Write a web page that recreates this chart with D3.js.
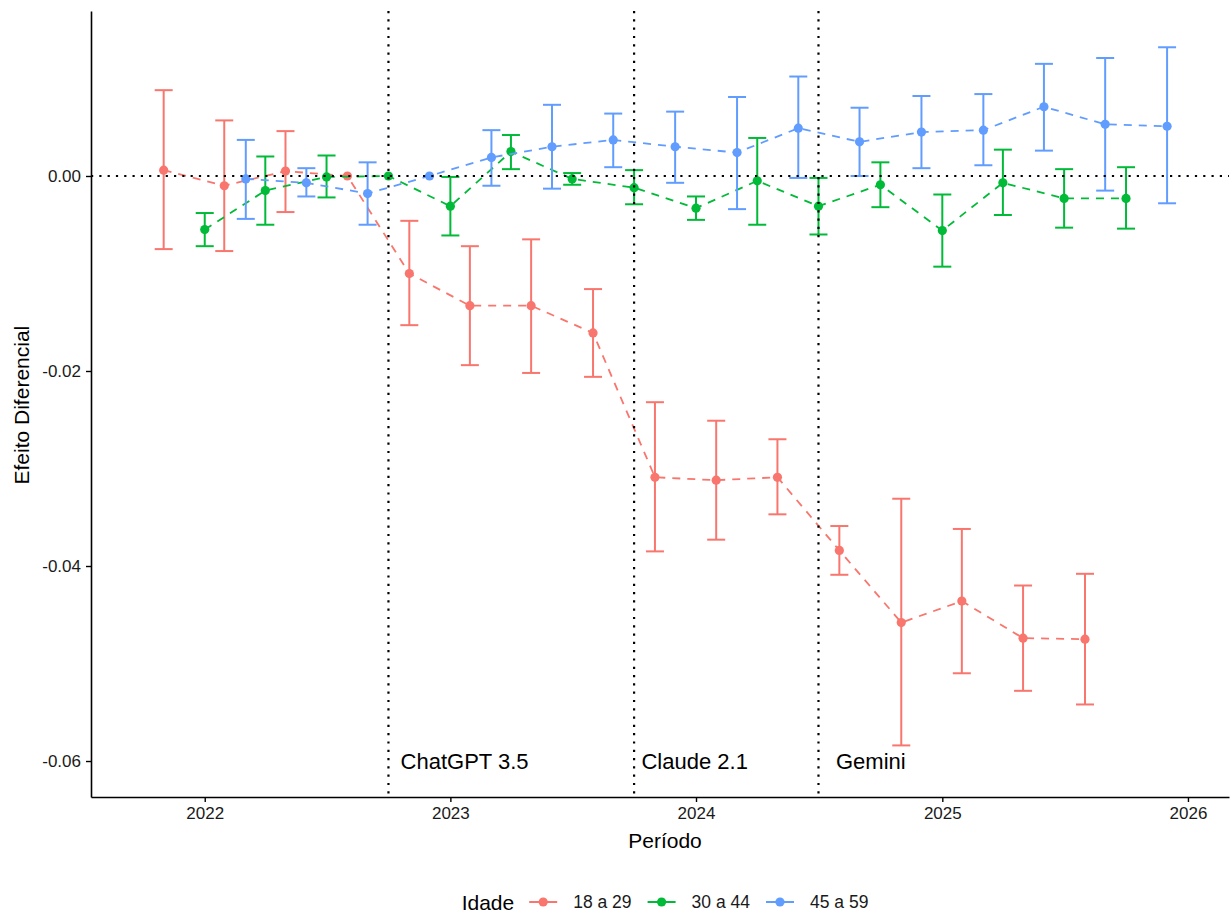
<!DOCTYPE html>
<html>
<head>
<meta charset="UTF-8">
<script src="https://d3js.org/d3.v7.min.js"></script>
<style>
  body { margin: 0; background: #fff; }
  svg text { font-family: "Liberation Sans", Arial, sans-serif; }
  .axis path, .axis line { stroke: #000; }
  .axis text { fill: #1a1a1a; font-size: 17px; }
</style>
</head>
<body>
<svg width="1231" height="914"></svg>
<script>

// quarters (Q1 2022 .. Q4 2025)
var quarters = ["2022-01-01","2022-04-01","2022-07-01","2022-10-01",
                "2023-01-01","2023-04-01","2023-07-01","2023-10-01",
                "2024-01-01","2024-04-01","2024-07-01","2024-10-01",
                "2025-01-01","2025-04-01","2025-07-01","2025-10-01"];

var groups = ["18 a 29", "30 a 44", "45 a 59"];

var est18 = [0.0006, -0.0010, 0.0005, 0, -0.0100, -0.0133, -0.0133, -0.0161, -0.0309, -0.0312, -0.0309, -0.0384, -0.0458, -0.0436, -0.0474, -0.0475];
var lo18  = [-0.0075, -0.0077, -0.0037, null, -0.0153, -0.0194, -0.0202, -0.0206, -0.0385, -0.0373, -0.0347, -0.0409, -0.0584, -0.0510, -0.0528, -0.0542];
var hi18  = [0.0088, 0.0057, 0.0046, null, -0.0046, -0.0072, -0.0065, -0.0116, -0.0232, -0.0251, -0.0270, -0.0359, -0.0331, -0.0362, -0.0420, -0.0408];

var est30 = [-0.0055, -0.0015, -0.0001, 0, -0.0031, 0.0025, -0.0003, -0.0012, -0.0033, -0.0005, -0.0031, -0.0009, -0.0056, -0.0007, -0.0023, -0.0023];
var lo30  = [-0.0072, -0.0050, -0.0022, null, -0.0061, 0.0007, -0.0009, -0.0029, -0.0045, -0.0050, -0.0060, -0.0032, -0.0093, -0.0040, -0.0053, -0.0054];
var hi30  = [-0.0038, 0.0020, 0.0021, null, -0.0001, 0.0042, 0.0003, 0.0006, -0.0021, 0.0039, -0.0002, 0.0014, -0.0019, 0.0027, 0.0007, 0.0009];

var est45 = [-0.0003, -0.0007, -0.0018, 0, 0.0019, 0.0030, 0.0037, 0.0030, 0.0024, 0.0049, 0.0035, 0.0045, 0.0047, 0.0071, 0.0053, 0.0051];
var lo45  = [-0.0044, -0.0021, -0.0050, null, -0.0010, -0.0013, 0.0009, -0.0007, -0.0034, -0.0002, 0.0000, 0.0008, 0.0011, 0.0026, -0.0015, -0.0028];
var hi45  = [0.0037, 0.0008, 0.0014, null, 0.0047, 0.0073, 0.0064, 0.0066, 0.0081, 0.0102, 0.0070, 0.0082, 0.0084, 0.0115, 0.0121, 0.0132];

var yTicks = [-0.06, -0.04, -0.02, 0];

// model releases (dotted lines) and where their labels start
var events     = ["ChatGPT 3.5", "Claude 2.1", "Gemini"];
var eventDates = ["2022-10-01", "2023-10-01", "2024-07-01"];
var labelDates = ["2022-10-19", "2023-10-12", "2024-07-27"];

var colors = ["#F8766D", "#00BA38", "#619CFF"];
var dodgeDays = [-61, 0, 61];

var parse = d3.utcParse("%Y-%m-%d");

var svg = d3.select("svg"),
    margin = {top: 11, right: 2, bottom: 117, left: 91},
    width = +svg.attr("width") - margin.left - margin.right,
    height = +svg.attr("height") - margin.top - margin.bottom;

var x = d3.scaleUtc()
    .domain([parse("2021-07-16"), parse("2026-03-03")])
    .range([0, width]);
var y = d3.scaleLinear()
    .domain([-0.06369, 0.01692])
    .range([height, 0]);

var g = svg.append("g")
    .attr("transform", "translate(" + margin.left + "," + margin.top + ")");

var series = [
  {name: groups[0], est: est18, lo: lo18, hi: hi18},
  {name: groups[1], est: est30, lo: lo30, hi: hi30},
  {name: groups[2], est: est45, lo: lo45, hi: hi45}
].map(function(s, i) {
  s.color = colors[i];
  s.rows = quarters.map(function(q, j) {
    return {date: d3.utcDay.offset(parse(q), dodgeDays[i]), est: s.est[j], lo: s.lo[j], hi: s.hi[j]};
  });
  return s;
});

// axes
g.append("g")
    .attr("class", "axis")
    .attr("transform", "translate(0," + height + ")")
    .call(d3.axisBottom(x).ticks(d3.utcYear.every(1)).tickFormat(d3.utcFormat("%Y")).tickSize(5).tickPadding(5).tickSizeOuter(0))
    .call(function(a) { a.select(".domain").attr("stroke-width", 1.6); a.selectAll(".tick line").attr("stroke-width", 1.4); });

g.append("g")
    .attr("class", "axis")
    .call(d3.axisLeft(y).tickValues(yTicks).tickFormat(function(d) { return d.toFixed(2); }).tickSize(5).tickPadding(5).tickSizeOuter(0))
    .call(function(a) { a.select(".domain").attr("stroke-width", 1.6); a.selectAll(".tick line").attr("stroke-width", 1.4); });

// data
var line = d3.line()
    .x(function(d) { return x(d.date); })
    .y(function(d) { return y(d.est); });

series.forEach(function(s) {
  var sg = g.append("g");
  sg.append("path")
      .datum(s.rows)
      .attr("fill", "none")
      .attr("stroke", s.color)
      .attr("stroke-width", 1.8)
      .attr("stroke-dasharray", "8,7")
      .attr("d", line);

  var bars = s.rows.filter(function(d) { return d.lo !== null; });
  var eb = sg.selectAll(".eb").data(bars).enter().append("g")
      .attr("stroke", s.color)
      .attr("stroke-width", 2);
  eb.append("line")
      .attr("x1", function(d) { return x(d.date); })
      .attr("x2", function(d) { return x(d.date); })
      .attr("y1", function(d) { return y(d.lo); })
      .attr("y2", function(d) { return y(d.hi); });
  eb.append("line")
      .attr("x1", function(d) { return x(d.date) - 9; })
      .attr("x2", function(d) { return x(d.date) + 9; })
      .attr("y1", function(d) { return y(d.hi); })
      .attr("y2", function(d) { return y(d.hi); });
  eb.append("line")
      .attr("x1", function(d) { return x(d.date) - 9; })
      .attr("x2", function(d) { return x(d.date) + 9; })
      .attr("y1", function(d) { return y(d.lo); })
      .attr("y2", function(d) { return y(d.lo); });

  sg.selectAll("circle").data(s.rows).enter().append("circle")
      .attr("cx", function(d) { return x(d.date); })
      .attr("cy", function(d) { return y(d.est); })
      .attr("r", 4.6)
      .attr("fill", s.color);
});

// reference lines
g.append("line")
    .attr("x1", 0).attr("x2", width)
    .attr("y1", y(0)).attr("y2", y(0))
    .attr("stroke", "#000").attr("stroke-width", 2.2)
    .attr("stroke-dasharray", "2.2,6.1");

g.selectAll(".vline").data(eventDates).enter().append("line")
    .attr("x1", function(d) { return x(parse(d)); })
    .attr("x2", function(d) { return x(parse(d)); })
    .attr("y1", 0).attr("y2", height)
    .attr("stroke", "#000").attr("stroke-width", 2.2)
    .attr("stroke-dasharray", "2.2,6.1");

g.selectAll(".evlabel").data(events).enter().append("text")
    .attr("x", function(d, i) { return x(parse(labelDates[i])); })
    .attr("y", y(-0.06))
    .attr("dy", "0.36em")
    .attr("font-size", 22)
    .attr("fill", "#000")
    .text(function(d) { return d; });

// axis titles
svg.append("text")
    .attr("x", margin.left + width / 2 + 5)
    .attr("y", 848)
    .attr("text-anchor", "middle")
    .attr("font-size", 21)
    .text("Período");

svg.append("text")
    .attr("transform", "translate(29," + (margin.top + y(-0.0235)) + ") rotate(-90)")
    .attr("text-anchor", "middle")
    .attr("font-size", 21)
    .text("Efeito Diferencial");

// legend
var legend = svg.append("g");
var lx = 0;
legend.append("text")
    .attr("x", lx).attr("y", 0).attr("dy", "0.36em")
    .attr("font-size", 21)
    .text("Idade");
lx += legend.select("text").node().getComputedTextLength() + 15;
groups.forEach(function(name, i) {
  legend.append("line")
      .attr("x1", lx).attr("x2", lx + 28)
      .attr("y1", 0).attr("y2", 0)
      .attr("stroke", colors[i]).attr("stroke-width", 2);
  legend.append("circle")
      .attr("cx", lx + 14).attr("cy", 0).attr("r", 4.6)
      .attr("fill", colors[i]);
  lx += 44;
  var t = legend.append("text")
      .attr("x", lx).attr("y", 0).attr("dy", "0.36em")
      .attr("font-size", 17.5)
      .attr("fill", "#1a1a1a")
      .text(name);
  lx += t.node().getComputedTextLength() + 16;
});
lx -= 16;
legend.attr("transform", "translate(" + (margin.left + width / 2 + 5 - lx / 2) + ",902)");

</script>
</body>
</html>
